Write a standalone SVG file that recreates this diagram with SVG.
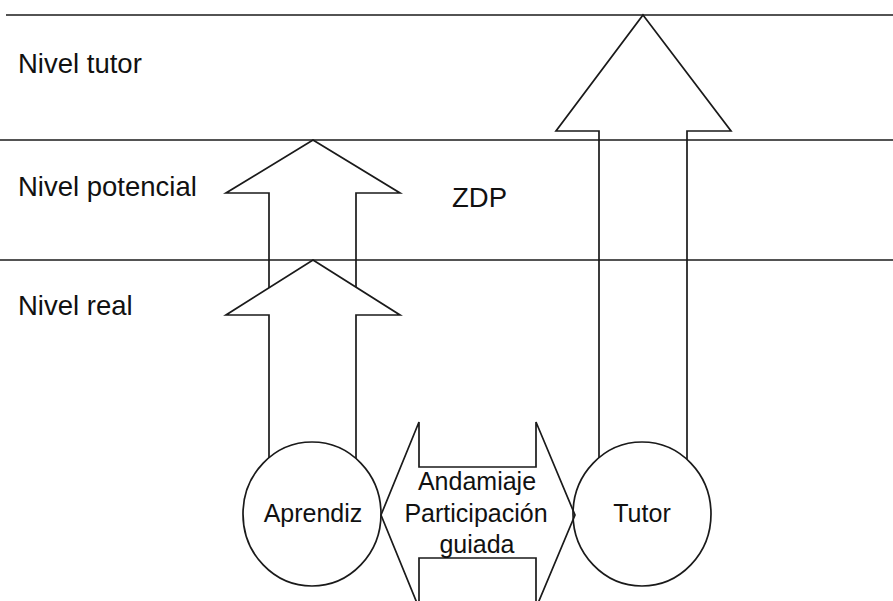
<svg xmlns="http://www.w3.org/2000/svg" width="893" height="601" viewBox="0 0 893 601">
  <style>
    .line { stroke: #1a1a1a; stroke-width: 1.7; fill: none; }
    .shape { stroke: #1a1a1a; stroke-width: 1.7; fill: #ffffff; stroke-linejoin: miter; }
    .open { stroke: #1a1a1a; stroke-width: 1.7; fill: none; stroke-linejoin: miter; }
    .label { font-family: "Liberation Sans", Arial, sans-serif; font-size: 27.5px; fill: #111; }
    .node-text { font-family: "Liberation Sans", Arial, sans-serif; font-size: 25px; fill: #111; text-anchor: middle; }
  </style>

  <rect width="893" height="601" fill="#ffffff"/>

  <!-- Upward arrows rising from the two actors -->
  <g id="connectors">
    <polygon class="shape" points="313,140 400,193 356,193 356,310 269,310 269,193 226,193"/>
    <polygon class="shape" points="313,260 400,315 356,315 356,514 269,514 269,315 226,315"/>
    <polygon class="shape" points="643,15 731,131 687,131 687,514 599,514 599,131 556,131"/>
  </g>

  <!-- Level boundaries -->
  <g id="levels">
    <line class="line" x1="6" y1="15" x2="893" y2="15" stroke="#555"/>
    <line class="line" x1="0" y1="140" x2="893" y2="140"/>
    <line class="line" x1="0" y1="260" x2="893" y2="260"/>
    <text class="label" x="18" y="73">Nivel tutor</text>
    <text class="label" x="18" y="196">Nivel potencial</text>
    <text class="label" x="18" y="315">Nivel real</text>
    <text class="label" x="452" y="207" font-size="26">ZDP</text>
  </g>

  <g id="aprendiz">
    <ellipse class="shape" cx="312" cy="514" rx="69" ry="72"/>
    <text class="node-text" x="313" y="522">Aprendiz</text>
  </g>

  <g id="tutor">
    <ellipse class="shape" cx="642" cy="514" rx="69" ry="72"/>
    <text class="node-text" x="642" y="522">Tutor</text>
  </g>

  <!-- Two-way arrow between learner and tutor -->
  <g id="andamiaje">
    <polygon class="open" points="381,515 419,422 419,467 536,467 536,422 575,515 536,608 536,558 419,558 419,608"/>
    <text class="node-text" x="477" y="490">Andamiaje</text>
    <text class="node-text" x="476" y="522">Participación</text>
    <text class="node-text" x="477" y="553">guiada</text>
  </g>
</svg>
